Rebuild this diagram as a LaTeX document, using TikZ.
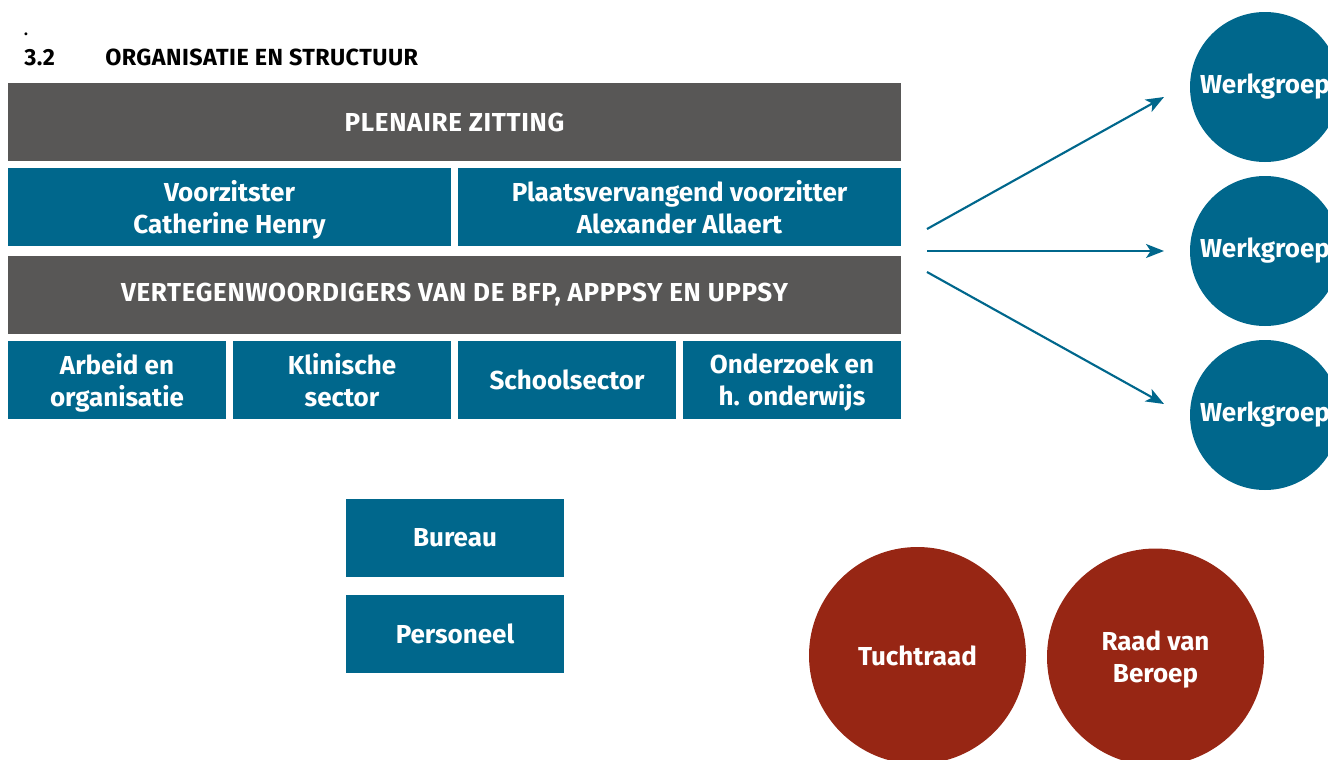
\documentclass[tikz,border=0pt]{standalone}
\usepackage{fontspec}
\setmainfont{Fira Sans}
\usetikzlibrary{arrows.meta}
\definecolor{bblue}{RGB}{0,103,140}
\definecolor{bgray}{RGB}{88,87,86}
\definecolor{bred}{RGB}{151,38,20}
\tikzset{
  boxtext/.style={text=white,font=\bfseries\fontsize{19.5}{24}\selectfont,align=center,inner sep=0pt},
  capsfont/.style={font=\bfseries\fontsize{19.5}{24}\selectfont\addfontfeatures{LetterSpace=2.6}},
  twoline/.style={text depth=0pt},
  graybox/.style={boxtext,fill=bgray,minimum height=58.5pt},
  bluebox/.style={boxtext,fill=bblue,minimum height=58.5pt},
  wgcircle/.style={boxtext,circle,fill=bblue,minimum size=112.5pt},
  redcircle/.style={boxtext,circle,fill=bred,minimum size=162.75pt},
  arr/.style={draw=bblue,line width=1.6pt,-{Stealth[length=13.5pt,width=10.5pt,inset=3.5pt]}},
  heading/.style={font=\bfseries\fontsize{17.5}{20}\selectfont\addfontfeatures{LetterSpace=2},inner sep=0pt,anchor=base west}
}
\begin{document}
\begin{tikzpicture}[x=0.75pt,y=-0.75pt]
\useasboundingbox (0,0) rectangle (1328,760);
\clip (0,0) rectangle (1328,760);
% heading
\node[inner sep=0pt,font=\bfseries\fontsize{12}{13}\selectfont,anchor=base] (dot) at (26,35) {.};
\node[heading] (num) at (24,65) {3.2};
\node[heading] (title) at (105,65) {ORGANISATIE EN STRUCTUUR};
% boxes
\node[graybox,capsfont,minimum width=669.75pt] (plen) at (454.5,122) {PLENAIRE ZITTING};
\node[bluebox,twoline,minimum width=332.25pt] (voor) at (229.5,207) {Voorzitster\\Catherine Henry};
\node[bluebox,twoline,minimum width=332.25pt] (plaats) at (679.5,207) {Plaatsvervangend voorzitter\\Alexander Allaert};
\node[graybox,capsfont,minimum width=669.75pt] (vert) at (454.5,295) {VERTEGENWOORDIGERS VAN DE BFP, APPPSY EN UPPSY};
\node[bluebox,twoline,minimum width=163.5pt] (arb) at (117,380) {Arbeid en\\organisatie};
\node[bluebox,twoline,minimum width=163.5pt] (klin) at (342,380) {Klinische\\sector};
\node[bluebox,minimum width=163.5pt] (school) at (567,380) {Schoolsector};
\node[bluebox,twoline,minimum width=163.5pt] (onder) at (792,380) {Onderzoek en\\h. onderwijs};
\node[bluebox,minimum width=163.5pt] (bureau) at (455,538) {Bureau};
\node[bluebox,minimum width=163.5pt] (pers) at (455,634) {Personeel};
% werkgroep circles
\node[wgcircle] (wg1) at (1265,87) {Werkgroep};
\node[wgcircle] (wg2) at (1265,251) {Werkgroep};
\node[wgcircle] (wg3) at (1265,415) {Werkgroep};
% red circles
\node[redcircle] (tucht) at (917.5,655.5) {Tuchtraad};
\node[redcircle,twoline] (raad) at (1155.5,657) {Raad van\\Beroep};
% arrows
\coordinate (s1) at (927,229);
\coordinate (s2) at (927,251);
\coordinate (s3) at (927,272);
\coordinate (e1) at (1164,97);
\coordinate (e2) at (1164,251);
\coordinate (e3) at (1164,404);
\draw[arr] (s1) -- (e1);
\draw[arr] (s2) -- (e2);
\draw[arr] (s3) -- (e3);
\end{tikzpicture}
\end{document}
